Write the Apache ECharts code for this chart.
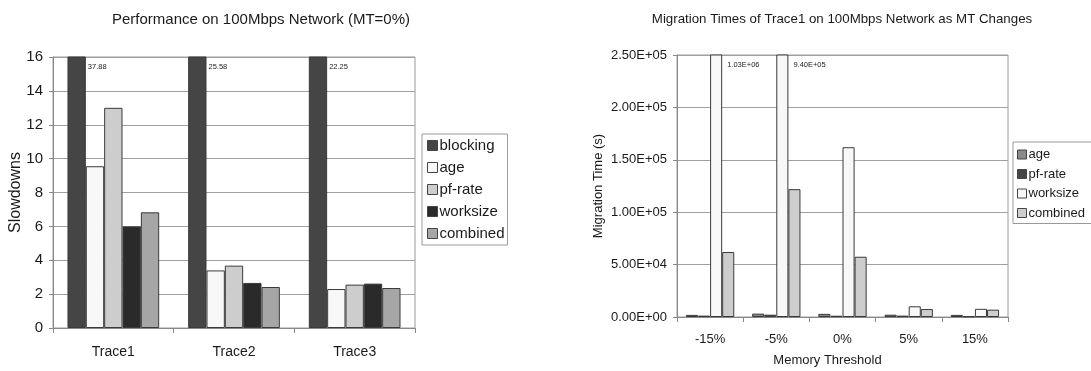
<!DOCTYPE html>
<html>
<head>
<meta charset="utf-8">
<script src="https://cdn.jsdelivr.net/npm/echarts@6/dist/echarts.min.js"></script>
<style>
  html, body { margin: 0; padding: 0; background: #fff; }
  #left { position: absolute; left: 0; top: 0; width: 540px; height: 371px; }
  #right { position: absolute; left: 540px; top: 0; width: 551px; height: 371px; }
</style>
</head>
<body>
<div id="left"></div>
<div id="right"></div>
<script>
// ---- Left chart data ----
const leftTitle = 'Performance on 100Mbps Network (MT=0%)';
const traces = ['Trace1', 'Trace2', 'Trace3'];
const leftNames = ['blocking', 'age', 'pf-rate', 'worksize', 'combined'];
const blocking = [37.88, 25.58, 22.25];
const ageL = [9.55, 3.40, 2.30];
const pfRateL = [13.0, 3.68, 2.56];
const worksizeL = [6.0, 2.66, 2.62];
const combinedL = [6.83, 2.42, 2.36];
const leftYMin = 0, leftYMax = 16, leftYStep = 2;

// ---- Right chart data ----
const rightTitle = 'Migration Times of Trace1 on 100Mbps Network as MT Changes';
const thresholds = ['-15%', '-5%', '0%', '5%', '15%'];
const rightNames = ['age', 'pf-rate', 'worksize', 'combined'];
const ageR = [2000, 3200, 3000, 2200, 2000];
const pfRateR = [1300, 2200, 1200, 1300, 600];
const worksizeR = [1030000, 940000, 162000, 10200, 7800];
const combinedR = [62000, 122000, 57500, 7600, 7000];
const rightYMin = 0, rightYMax = 250000, rightYStep = 50000;

const FONT = '"Liberation Sans", Arial, Helvetica, sans-serif';
const TXT = '#1a1a1a';

function fmtE(v) {
  const parts = Number(v).toExponential(2).split('e');
  const sign = parts[1][0];
  const digits = parts[1].slice(1).padStart(2, '0');
  return parts[0] + 'E' + sign + digits;
}

function overflowData(values, max, fmt, dx) {
  return values.map(v => ({
    value: v,
    label: {
      show: v > max,
      position: ['100%', 0],
      offset: [dx, 6],
      fontSize: 7.5,
      fontFamily: FONT,
      color: '#222',
      formatter: () => fmt(v)
    }
  }));
}

function barSeries(name, data, color, gap) {
  return {
    name: name,
    type: 'bar',
    data: data,
    barGap: '0%',
    barCategoryGap: gap,
    itemStyle: { color: color, borderColor: '#3a3a3a', borderWidth: 1 },
    emphasis: { disabled: true },
    animation: false
  };
}

// ---------- Left chart ----------
const leftChart = echarts.init(document.getElementById('left'), null, { renderer: 'canvas' });
const leftColors = ['#454545', '#f8f8f8', '#cdcdcd', '#2a2a2a', '#a6a6a6'];
const leftValues = [overflowData(blocking, leftYMax, v => v.toFixed(2), 2), ageL, pfRateL, worksizeL, combinedL];
leftChart.setOption({
  animation: false,
  backgroundColor: '#fff',
  textStyle: { fontFamily: FONT, color: TXT },
  title: {
    text: leftTitle,
    left: 256,
    top: 7,
    textAlign: 'center',
    textStyle: { fontSize: 15, fontWeight: 'normal', color: TXT, fontFamily: FONT }
  },
  legend: {
    data: leftNames,
    orient: 'vertical',
    left: 422,
    top: 134,
    icon: 'rect',
    itemWidth: 10,
    itemHeight: 10,
    itemGap: 7,
    padding: [4, 3, 4, 5],
    borderColor: '#999',
    borderWidth: 1,
    itemStyle: { borderColor: '#444', borderWidth: 1 },
    textStyle: { fontSize: 15, color: TXT, fontFamily: FONT, padding: [0, 0, 0, -3] },
    selectedMode: false
  },
  grid: {
    left: 53, top: 57, width: 362, height: 271,
    outerBoundsMode: 'none',
    show: true, borderColor: '#9a9a9a', borderWidth: 1, backgroundColor: 'transparent'
  },
  xAxis: {
    type: 'category',
    data: traces,
    axisLine: { lineStyle: { color: '#888' } },
    axisTick: { show: true, length: 5, lineStyle: { color: '#888' } },
    axisLabel: { fontSize: 14, color: TXT, margin: 17, fontFamily: FONT }
  },
  yAxis: {
    type: 'value',
    min: leftYMin, max: leftYMax, interval: leftYStep,
    name: 'Slowdowns',
    nameLocation: 'middle',
    nameGap: 29,
    nameMoveOverlap: false,
    nameTextStyle: { fontSize: 16, color: TXT, fontFamily: FONT },
    axisLine: { show: true, lineStyle: { color: '#888' } },
    axisTick: { show: true, length: 4, lineStyle: { color: '#888' } },
    axisLabel: { fontSize: 15, color: TXT, margin: 10, fontFamily: FONT },
    splitLine: { lineStyle: { color: '#a0a0a0' } }
  },
  series: leftNames.map((n, i) => barSeries(n, leftValues[i], leftColors[i], '24%'))
});

// ---------- Right chart ----------
const rightChart = echarts.init(document.getElementById('right'), null, { renderer: 'canvas' });
const rightColors = ['#8a8a8a', '#454545', '#f8f8f8', '#cdcdcd'];
const rightValues = [ageR, pfRateR, overflowData(worksizeR, rightYMax, fmtE, 5), combinedR];
rightChart.setOption({
  animation: false,
  backgroundColor: '#fff',
  textStyle: { fontFamily: FONT, color: TXT },
  title: {
    text: rightTitle,
    left: 297,
    top: 8,
    textAlign: 'center',
    textStyle: { fontSize: 13.3, fontWeight: 'normal', color: TXT, fontFamily: FONT }
  },
  legend: {
    data: rightNames,
    orient: 'vertical',
    left: 473,
    top: 142,
    icon: 'rect',
    itemWidth: 9,
    itemHeight: 9,
    itemGap: 6.5,
    padding: [6, 14, 4, 4],
    borderColor: '#999',
    borderWidth: 1,
    itemStyle: { borderColor: '#444', borderWidth: 1 },
    textStyle: { fontSize: 13, color: TXT, fontFamily: FONT, padding: [0, 0, 0, -3] },
    selectedMode: false
  },
  grid: {
    left: 137, top: 55, width: 331, height: 262,
    outerBoundsMode: 'none',
    show: true, borderColor: '#9a9a9a', borderWidth: 1, backgroundColor: 'transparent'
  },
  xAxis: {
    type: 'category',
    data: thresholds,
    name: 'Memory Threshold',
    nameLocation: 'middle',
    nameGap: 37,
    nameMoveOverlap: false,
    nameTextStyle: { fontSize: 13, color: TXT, fontFamily: FONT, padding: [0, 30, 0, 0] },
    axisLine: { lineStyle: { color: '#888' } },
    axisTick: { show: true, length: 5, lineStyle: { color: '#888' } },
    axisLabel: { fontSize: 13, color: TXT, margin: 16, fontFamily: FONT }
  },
  yAxis: {
    type: 'value',
    min: rightYMin, max: rightYMax, interval: rightYStep,
    name: 'Migration Time (s)',
    nameLocation: 'middle',
    nameGap: 72,
    nameMoveOverlap: false,
    nameTextStyle: { fontSize: 13, color: TXT, fontFamily: FONT },
    axisLine: { show: true, lineStyle: { color: '#888' } },
    axisTick: { show: true, length: 4, lineStyle: { color: '#888' } },
    axisLabel: { fontSize: 13, color: TXT, margin: 10, fontFamily: FONT, formatter: v => fmtE(v) },
    splitLine: { lineStyle: { color: '#a0a0a0' } }
  },
  series: rightNames.map((n, i) => barSeries(n, rightValues[i], rightColors[i], '27%'))
});
</script>
</body>
</html>
